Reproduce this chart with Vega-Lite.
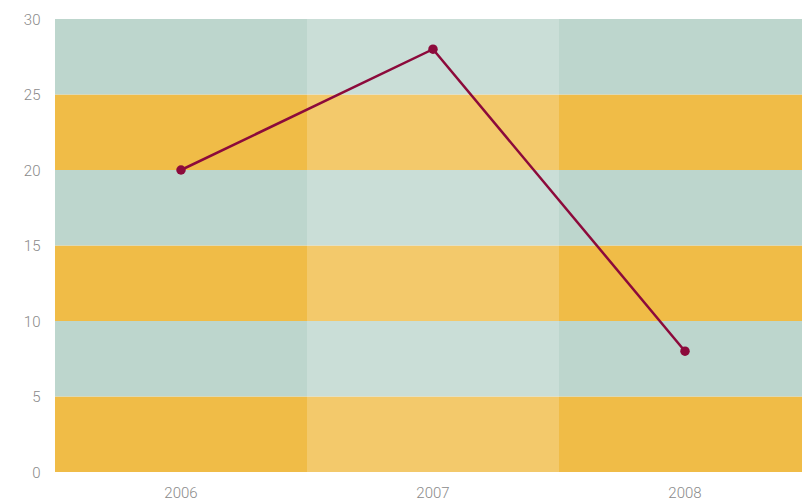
{
  "$schema": "https://vega.github.io/schema/vega-lite/v6.json",
  "autosize": "none",
  "width": 756,
  "height": 453,
  "padding": {"left": 55, "top": 19, "right": 0, "bottom": 31},
  "config": {"view": {"stroke": null}, "background": "white"},
  "datasets": {
    "series": [
      {"year": "2006", "value": 20},
      {"year": "2007", "value": 28},
      {"year": "2008", "value": 8}
    ],
    "bands": [
      {"start": 0, "end": 5, "kind": "a"},
      {"start": 5, "end": 10, "kind": "b"},
      {"start": 10, "end": 15, "kind": "a"},
      {"start": 15, "end": 20, "kind": "b"},
      {"start": 20, "end": 25, "kind": "a"},
      {"start": 25, "end": 30, "kind": "b"}
    ],
    "highlight": [{"year": "2007"}]
  },
  "layer": [
    {
      "data": {"name": "bands"},
      "mark": {"type": "rect"},
      "encoding": {
        "y": {"field": "start", "type": "quantitative", "scale": {"domain": [0, 30], "nice": false}, "axis": {"values": [0, 5, 10, 15, 20, 25, 30], "grid": false, "domain": false, "ticks": false, "labelPadding": 15, "labelColor": "#8a8a8a", "labelFont": "Roboto", "labelFontWeight": 300, "labelFontSize": 15, "title": null}},
        "y2": {"field": "end"},
        "color": {"field": "kind", "type": "nominal", "scale": {"domain": ["a", "b"], "range": ["#F0BC47", "#BDD6CD"]}, "legend": null}
      }
    },
    {
      "data": {"name": "highlight"},
      "mark": {"type": "rect", "color": "white", "opacity": 0.2},
      "encoding": {
        "x": {"field": "year", "type": "ordinal"}
      }
    },
    {
      "data": {"name": "series"},
      "mark": {"type": "line", "color": "#8C0A3B", "strokeWidth": 2.5},
      "encoding": {
        "x": {"field": "year", "type": "ordinal", "scale": {"type": "band", "domain": ["2006", "2007", "2008"], "paddingInner": 0, "paddingOuter": 0}, "axis": {"domain": false, "ticks": false, "grid": false, "labelAngle": 0, "labelAlign": "center", "bandPosition": 0.5, "labelPadding": 20, "labelColor": "#8a8a8a", "labelFont": "Roboto", "labelFontWeight": 300, "labelFontSize": 15, "title": null}},
        "y": {"field": "value", "type": "quantitative"}
      }
    },
    {
      "data": {"name": "series"},
      "mark": {"type": "point", "filled": true, "color": "#8C0A3B", "size": 90, "opacity": 1},
      "encoding": {
        "x": {"field": "year", "type": "ordinal"},
        "y": {"field": "value", "type": "quantitative"}
      }
    }
  ]
}
